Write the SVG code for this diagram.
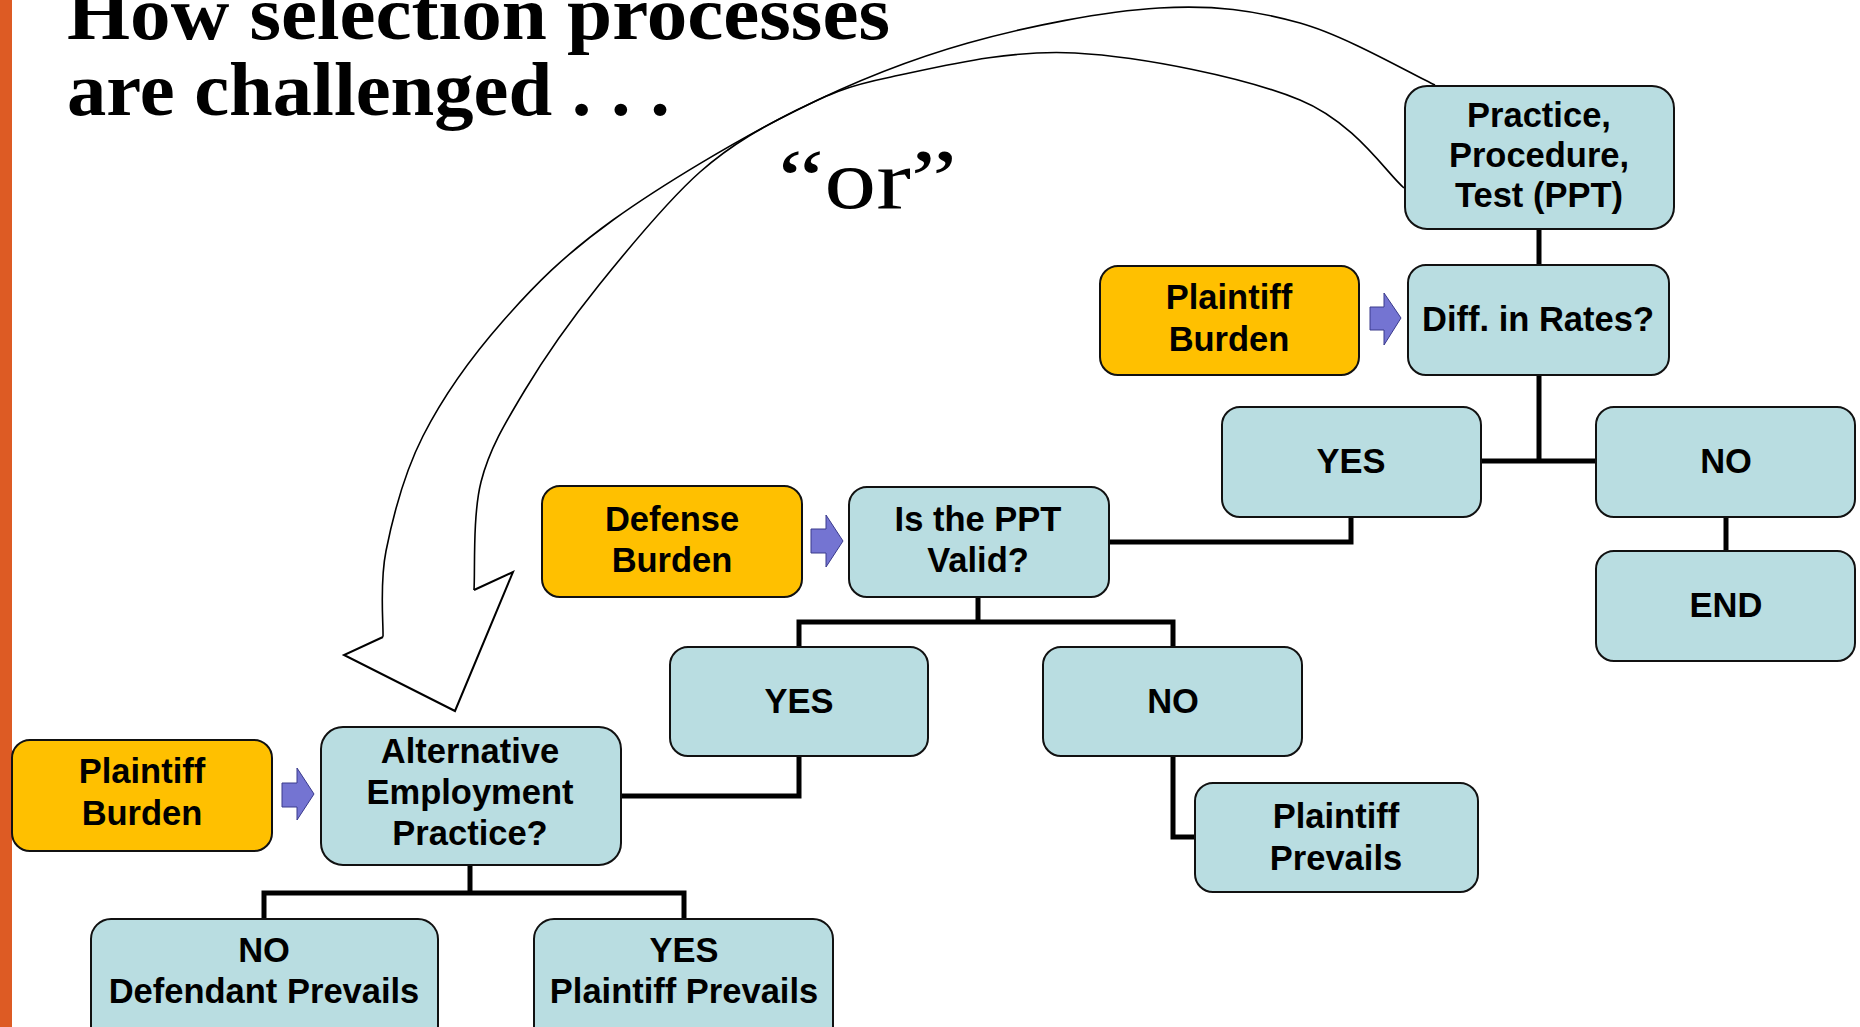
<svg xmlns="http://www.w3.org/2000/svg" width="1860" height="1027" viewBox="0 0 1860 1027">
<style>
.box{fill:#B9DDE1;stroke:#111;stroke-width:2}
.burden{fill:#FFC000;stroke:#111;stroke-width:2}
.t{font-family:"Liberation Sans",Arial,sans-serif;font-weight:bold;font-size:34.5px;fill:#000;text-anchor:middle}
.conn{fill:none;stroke:#000;stroke-width:5;stroke-linejoin:miter;stroke-linecap:butt}
.barrow{fill:#7474D2;stroke:#3A3A8C;stroke-width:1}
.curve{fill:none;stroke:#000;stroke-width:1.6}
.title{font-family:"Liberation Serif","Times New Roman",serif;font-weight:bold;font-size:77px;fill:#000}
</style>
<rect x="0" y="0" width="1860" height="1027" fill="#fff"/>
<rect x="0" y="0" width="12" height="1027" fill="#DD5B24"/>
<g id="title">
<text class="title" x="67" y="39" textLength="823" lengthAdjust="spacingAndGlyphs">How selection processes</text>
<text class="title" x="67" y="115" textLength="603" lengthAdjust="spacingAndGlyphs">are challenged . . .</text>
</g>
<g id="curved-arrow">
<path class="curve" d="M1435,85 C1412.5,74.7 1346,35.8 1300,23 C1254,10.2 1214.3,4.7 1159,8 C1103.7,11.3 1028.3,26 968,43 C907.7,60 856.2,80.5 797,110 C737.8,139.5 662,184.8 613,220 C564,255.2 534.7,285 503,321 C471.3,357 442.5,397.7 423,436 C403.5,474.3 392.7,517.5 386,551 C379.3,584.5 383.5,622.7 383,637"/>
<path class="curve" d="M1404,188 C1386.7,173.3 1354.8,122.5 1300,100 C1245.2,77.5 1143.2,56.8 1075,53 C1006.8,49.2 937.3,67.5 891,77 C844.7,86.5 828.8,94.2 797,110 C765.2,125.8 733,142.8 700,172 C667,201.2 628.2,248.7 599,285 C569.8,321.3 544.7,357.2 525,390 C505.3,422.8 489.5,448.7 481,482 C472.5,515.3 475.2,572 474,590"/>
<path d="M383,637 L344,655 L455,711 L513,572 L474,590" fill="#fff" stroke="#000" stroke-width="2" stroke-linejoin="miter"/>
<text x="778" y="208" font-family="'Liberation Serif','Times New Roman',serif" font-size="84" textLength="179" lengthAdjust="spacingAndGlyphs">“or”</text>
</g>
<g id="connectors">
<path class="conn" d="M1539,229 V265"/>
<path class="conn" d="M1539,375 V461"/>
<path class="conn" d="M1481,461 H1596"/>
<path class="conn" d="M1726,517 V551"/>
<path class="conn" d="M1351,517 V542 H1109"/>
<path class="conn" d="M978,597 V622"/>
<path class="conn" d="M799,647 V622 H1173 V647"/>
<path class="conn" d="M1173,756 V837 H1195"/>
<path class="conn" d="M799,756 V796 H621"/>
<path class="conn" d="M470,865 V893"/>
<path class="conn" d="M264,919 V893 H684 V919"/>
<path class="barrow" d="M1370,307 H1384 V293 L1401,318 L1384,345 V330 H1370 Z"/>
<path class="barrow" d="M811,529 H826 V515 L843,541 L826,567 V553 H811 Z"/>
<path class="barrow" d="M282,783 H297 V768 L314,794 L297,820 V807 H282 Z"/>
</g>
<g id="node-ppt">
<rect class="box" x="1405" y="86" width="269" height="143" rx="22"/>
<text class="t" x="1539" y="127">Practice,</text>
<text class="t" x="1539" y="167">Procedure,</text>
<text class="t" x="1539" y="207">Test (PPT)</text>
</g>
<g id="node-plaintiff-burden-1">
<rect class="burden" x="1100" y="266" width="259" height="109" rx="18"/>
<text class="t" x="1229" y="309">Plaintiff</text>
<text class="t" x="1229" y="351">Burden</text>
</g>
<g id="node-diff">
<rect class="box" x="1408" y="265" width="261" height="110" rx="18"/>
<text class="t" x="1538" y="331">Diff. in Rates?</text>
</g>
<g id="node-yes-1">
<rect class="box" x="1222" y="407" width="259" height="110" rx="18"/>
<text class="t" x="1351" y="473">YES</text>
</g>
<g id="node-no-1">
<rect class="box" x="1596" y="407" width="259" height="110" rx="18"/>
<text class="t" x="1726" y="473">NO</text>
</g>
<g id="node-end">
<rect class="box" x="1596" y="551" width="259" height="110" rx="18"/>
<text class="t" x="1726" y="617">END</text>
</g>
<g id="node-defense-burden">
<rect class="burden" x="542" y="486" width="260" height="111" rx="18"/>
<text class="t" x="672" y="531">Defense</text>
<text class="t" x="672" y="572">Burden</text>
</g>
<g id="node-valid">
<rect class="box" x="849" y="487" width="260" height="110" rx="18"/>
<text class="t" x="978" y="531">Is the PPT</text>
<text class="t" x="978" y="572">Valid?</text>
</g>
<g id="node-yes-2">
<rect class="box" x="670" y="647" width="258" height="109" rx="18"/>
<text class="t" x="799" y="713">YES</text>
</g>
<g id="node-no-2">
<rect class="box" x="1043" y="647" width="259" height="109" rx="18"/>
<text class="t" x="1173" y="713">NO</text>
</g>
<g id="node-plaintiff-prevails">
<rect class="box" x="1195" y="783" width="283" height="109" rx="18"/>
<text class="t" x="1336" y="828">Plaintiff</text>
<text class="t" x="1336" y="870">Prevails</text>
</g>
<g id="node-plaintiff-burden-2">
<rect class="burden" x="12" y="740" width="260" height="111" rx="18"/>
<text class="t" x="142" y="783">Plaintiff</text>
<text class="t" x="142" y="825">Burden</text>
</g>
<g id="node-alternative">
<rect class="box" x="321" y="727" width="300" height="138" rx="22"/>
<text class="t" x="470" y="763">Alternative</text>
<text class="t" x="470" y="804">Employment</text>
<text class="t" x="470" y="845">Practice?</text>
</g>
<g id="node-no-defendant">
<rect class="box" x="91" y="919" width="347" height="140" rx="20"/>
<text class="t" x="264" y="962">NO</text>
<text class="t" x="264" y="1003">Defendant Prevails</text>
</g>
<g id="node-yes-plaintiff">
<rect class="box" x="534" y="919" width="299" height="140" rx="20"/>
<text class="t" x="684" y="962">YES</text>
<text class="t" x="684" y="1003">Plaintiff Prevails</text>
</g>
</svg>
